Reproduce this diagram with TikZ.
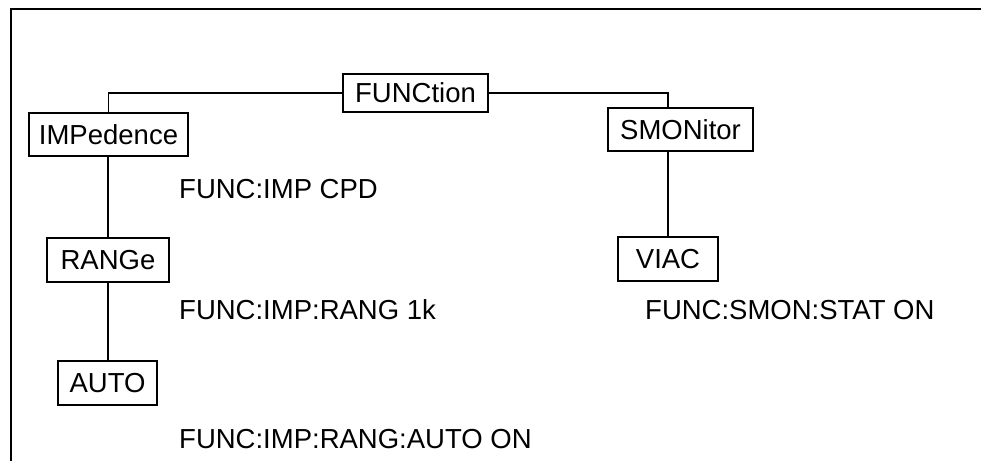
\documentclass[tikz,border=0pt]{standalone}
\usepackage{fontspec}
\setmainfont{Liberation Sans}
\usetikzlibrary{positioning}

\begin{document}
\begin{tikzpicture}[x=1pt, y=-1pt,
    cmdbox/.style={draw, line width=1.4pt, inner sep=0pt, minimum height=44pt,
        font=\fontsize{27.5}{33}\selectfont},
    cmdtext/.style={anchor=base west, inner sep=0pt, font=\fontsize{27.5}{33}\selectfont},
    wire/.style={line width=1.3pt}]
    \useasboundingbox (0,0) rectangle (981,461);
    % frame
    \draw[line width=1.7pt] (11,461) -- (11,9) -- (981,9);

    % command tree
    \node[cmdbox, minimum width=145pt, minimum height=38pt] (func) at (415.5,93) {FUNCtion};
    \node[cmdbox, minimum width=159pt, minimum height=43pt] (imp) at (108.5,134.5) {IMPedence};
    \node[cmdbox, minimum width=145pt, minimum height=43pt] (smon) at (680.5,129.5) {SMONitor};
    \node[cmdbox, minimum width=122pt] (rang) at (108,260) {RANGe};
    \node[cmdbox, minimum width=99pt] (auto) at (107.5,383) {AUTO};
    \node[cmdbox, minimum width=100pt] (viac) at (668,259) {VIAC};

    \draw[wire] (func.west) -| (imp.north);
    \draw[wire] (func.east) -| (viac.north |- smon.north);
    \draw[wire] (rang.north |- imp.south) -- (rang.north);
    \draw[wire] (rang.south) -- (auto.north -| rang.south);
    \draw[wire] (viac.north |- smon.south) -- (viac.north);

    % example commands
    \node[cmdtext] (impcmd) at (179,198) {FUNC:IMP CPD};
    \node[cmdtext] (rangcmd) at (179,319) {FUNC:IMP:RANG 1k};
    \node[cmdtext] (autocmd) at (179,448) {FUNC:IMP:RANG:AUTO ON};
    \node[cmdtext] (smoncmd) at (645,319) {FUNC:SMON:STAT ON};
\end{tikzpicture}
\end{document}
